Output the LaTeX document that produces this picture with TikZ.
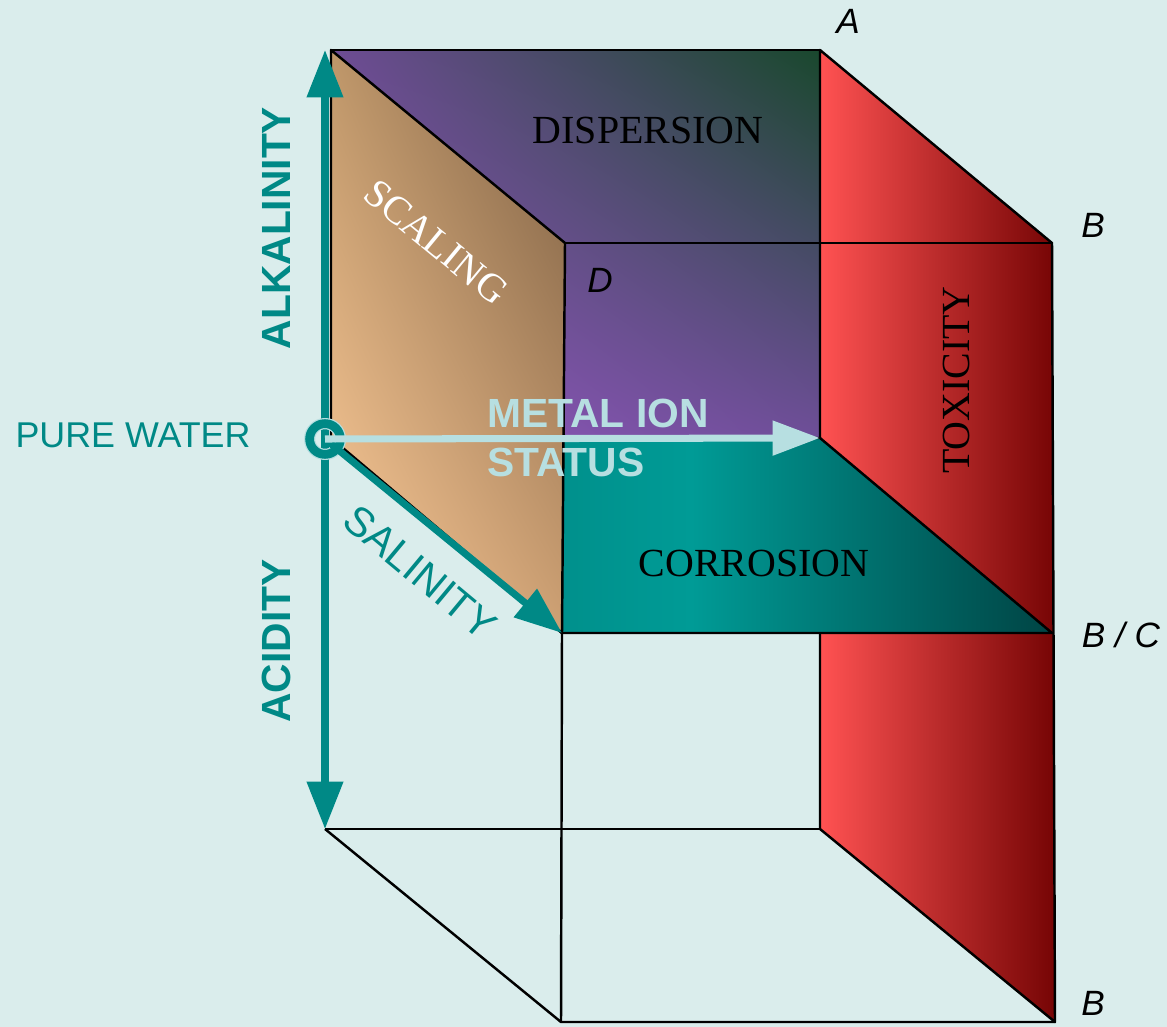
\documentclass[tikz,border=0pt]{standalone}
\usepackage{fontspec}
\setmainfont{Liberation Serif}
\setsansfont{Liberation Sans}
\usepackage{tikz}
\usetikzlibrary{arrows.meta, calc, shadings}
\definecolor{Fondo}{RGB}{218,237,236}
\definecolor{Eje}{RGB}{0,137,134}
\definecolor{Ion}{RGB}{183,223,225}
\definecolor{MoradoLL}{RGB}{148,88,192}
\definecolor{MoradoUL}{RGB}{110,76,148}
\definecolor{MoradoLR}{RGB}{110,78,152}
\definecolor{MoradoUR}{RGB}{25,72,45}
\definecolor{CafeUL}{RGB}{190,150,105}
\definecolor{CafeLL}{RGB}{255,205,155}
\definecolor{CafeUR}{RGB}{122,94,66}
\definecolor{CafeLR}{RGB}{205,160,115}
\definecolor{RojoA}{RGB}{255,82,82}
\definecolor{RojoB}{RGB}{118,5,5}
\definecolor{VerdeA}{RGB}{0,125,122}
\definecolor{VerdeB}{RGB}{0,155,150}
\definecolor{VerdeC}{RGB}{0,68,68}

\begin{document}
\begin{tikzpicture}[
  x=0.02cm, y=-0.02cm,
  cara/.style={
    draw=black, line width=1.4pt, line join=round
  },
  arista/.style={
    draw=black, line width=1.4pt
  },
  %% ejes en verde azulado
  ejedoble/.style={
    {Triangle[length=27pt, width=20pt]}-{Triangle[length=27pt, width=20pt]},
    line width=4pt, color=Eje
  },
  ejesimple/.style={
    -{Triangle[length=27pt, width=20pt]}, line width=4pt, color=Eje
  },
  ejeion/.style={
    -{Triangle[length=27pt, width=19pt]}, line width=4pt, color=Ion
  },
  origen/.style={
    circle, draw=Ion, double=Eje, double distance=5pt,
    line width=0.7pt, inner sep=0pt, minimum size=17.5pt
  },
  ejetxt/.style={
    font=\sffamily\bfseries\fontsize{23.2}{28.4}\selectfont,
    text=Eje, inner sep=0pt
  },
  caratxt/.style={
    font=\fontsize{22.7}{27}\selectfont, inner sep=0pt
  },
  vertice/.style={
    font=\sffamily\itshape\fontsize{20}{24}\selectfont, inner sep=0pt
  }
]

%% ── Fondo ──────────────────────────────────────────────────────────────────
\fill[Fondo] (0,0) rectangle (1167,1027);
\useasboundingbox (0,0) rectangle (1167,1027);

%% ── Vértices del cubo ──────────────────────────────────────────────────────
\coordinate (bTL) at (331,50);
\coordinate (bTR) at (820,50);
\coordinate (fTL) at (565,243);
\coordinate (fTR) at (1052,243);
\coordinate (bML) at (331,438);
\coordinate (bMR) at (820,438);
\coordinate (fML) at (562,633);
\coordinate (fMR) at (1052,633);
\coordinate (bBL) at (325,829);
\coordinate (bBR) at (820,829);
\coordinate (fBL) at (561,1022);
\coordinate (fBR) at (1055,1022);
\coordinate (ejeSup) at (325,50);

%% ── Caras ──────────────────────────────────────────────────────────────────
%% Dispersión (cara trasera)
\shadedraw[cara, lower left=MoradoLL, upper left=MoradoUL,
           lower right=MoradoLR, upper right=MoradoUR]
  (bTL) -- (bTR) -- (bMR) -- (bML) -- cycle;

%% Toxicidad (cara derecha)
\shadedraw[cara, left color=RojoA, right color=RojoB]
  (bTR) -- (fTR) -- (fBR) -- (bBR) -- cycle;

%% Corrosión (plano medio)
\shadedraw[cara, left color=VerdeA, right color=VerdeC, middle color=VerdeB]
  (bML) -- (bMR) -- (fMR) -- (fML) -- cycle;

%% Incrustación (cara izquierda)
\shadedraw[cara, upper left=CafeUL, lower left=CafeLL,
           upper right=CafeUR, lower right=CafeLR]
  (bTL) -- (fTL) -- (fML) -- (bML) -- cycle;

%% Aristas sueltas
\draw[arista] (fTL) -- (fTR);
\draw[arista] (bBL) -- (bBR);
\draw[arista] (bBL) -- (fBL) -- (fBR);
\draw[arista] (fML) -- (fBL);

%% ── Ejes ───────────────────────────────────────────────────────────────────
\draw[ejedoble] (ejeSup) -- (bBL);
\node[origen] (origen) at (325,439) {};
\draw[ejesimple] (origen.center) -- (fML);
\draw[ejeion] (origen.center) -- (bMR);

%% ── Textos ─────────────────────────────────────────────────────────────────
\node[ejetxt, rotate=90] (alk) at (276,228) {ALKALINITY};
\node[ejetxt, rotate=90] (acid) at (276,641) {ACIDITY};
\node[font=\sffamily\fontsize{20.4}{24}\selectfont, text=Eje, inner sep=0pt]
  (pura) at (133,435) {PURE WATER};
\node[font=\sffamily\fontsize{23.5}{28}\selectfont, text=Eje, inner sep=0pt,
      rotate=-39.8] (sal) at (420,572) {SALINITY};
\node[ejetxt, text=Ion, anchor=west, align=left] (ion) at (487,438)
  {METAL ION\\STATUS};

\node[caratxt] (disp) at (648,130) {DISPERSION};
\node[caratxt] (corr) at (754,563) {CORROSION};
\node[caratxt, rotate=90] (tox) at (956,380) {TOXICITY};
\node[caratxt, text=white, rotate=-39.5] (scal) at (436,242) {SCALING};

\node[vertice] (lA)  at (848,21)   {A};
\node[vertice] (lB)  at (1093,225) {B};
\node[vertice] (lD)  at (600,280)  {D};
\node[vertice] (lBC) at (1121,635) {B / C};
\node[vertice] (lBb) at (1093,1003) {B};

\end{tikzpicture}
\end{document}
